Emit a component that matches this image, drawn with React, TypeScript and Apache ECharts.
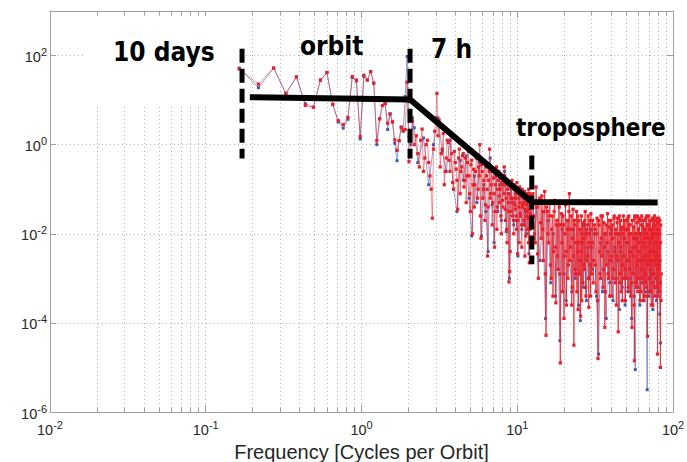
import React, { useEffect, useRef } from "react";
import * as echarts from "echarts";

// ---------- data (frequencies in cycles per orbit; amplitudes stored as log10 exponents) ----------
const freqLow = [0.164, 0.218, 0.273, 0.327, 0.382, 0.436, 0.491, 0.545, 0.6, 0.654, 0.709, 0.763, 0.818, 0.872, 0.927, 0.981, 1.036, 1.09, 1.145, 1.199, 1.254, 1.308, 1.363, 1.417, 1.472, 1.526, 1.581, 1.635, 1.69, 1.744, 1.799, 1.853, 1.908, 1.962, 2.017, 2.071, 2.126, 2.18];
const redLowExp = [1.7, 1.36, 1.72, 1.15, 1.52, 0.88, 0.84, 1.45, 1.62, 0.9, 0.54, 0.45, 0.61, 1.53, 1.45, 0.18, 1.56, 1.45, 1.64, 1.38, 0.09, 0.58, 0.88, 0.92, 0.48, 0.69, 0.51, 0.11, -0.13, 0.09, 0.38, 0.32, 0.34, 1.4, -0.38, 0.08, 0.53, 0.0];
const blueLowExp = [1.72, 1.28, 1.72, 1.15, 1.52, 0.92, 0.84, 1.45, 1.62, 0.9, 0.51, 0.37, 0.57, 1.51, 1.43, 0.13, 1.53, 1.45, 1.64, 1.38, 0.0, 0.58, 0.88, 0.92, 0.34, 0.69, 0.51, 0.03, -0.36, 0.09, 0.4, 0.3, 1.08, 1.98, 0.18, 0.0, 0.6, 0.38];

const freqMid = [2.25, 2.35, 2.45, 2.55, 2.65, 2.75, 2.85, 2.95, 3.05, 3.15, 3.25, 3.35, 3.45, 3.55, 3.65, 3.75, 3.85, 3.95, 4.05, 4.15, 4.25, 4.35, 4.45, 4.55, 4.65, 4.75, 4.85, 4.95, 5.05, 5.15, 5.25, 5.35, 5.45, 5.55, 5.65, 5.75, 5.85, 5.95, 6.05, 6.15, 6.25, 6.35, 6.45, 6.55, 6.65, 6.75, 6.85, 6.95, 7.05, 7.15, 7.25, 7.35, 7.45, 7.55, 7.65, 7.75, 7.85, 7.95, 8.05, 8.15, 8.25, 8.35, 8.45, 8.55, 8.65, 8.75, 8.85, 8.95, 9.05, 9.15, 9.25, 9.35, 9.45, 9.55, 9.65, 9.75, 9.85, 9.95, 10.05, 10.15, 10.25, 10.35, 10.45, 10.55, 10.65, 10.75, 10.85, 10.95, 11.05, 11.15, 11.25, 11.35, 11.45, 11.55, 11.65, 11.75, 11.85, 11.95, 12.05, 12.15, 12.25, 12.35, 12.45];
const redMidExp = [
  0.2, -0.5, 0.35, -0.3, 0.1, -0.7, -1.65, 0.3, 1.15, 0.55,
  -0.2, 0.25, -0.6, 0.1, -0.35, 0.2, -0.85, -0.15, -0.55, -1.45,
  -0.1, -0.6, -0.25, -0.95, -0.3, -0.7, -0.15, -1.1, -0.45, -2.0,
  -0.55, -0.9, -0.3, -1.2, -0.5, 0.0, -2.1, -0.6, -1.0, -0.4,
  -1.35, -0.7, -2.5, -0.8, -0.1, -1.1, -0.55, -1.3, -0.75, -2.3,
  -0.9, -0.5, -1.4, -0.8, -1.15, -0.65, -1.6, -0.85, -1.25, -0.75,
  -0.5, -1.45, -0.9, -1.9, -1.0, -1.3, -3.08, -2.85, -0.95, -1.5,
  -0.8, -1.2, -1.7, -0.9, -1.35, -1.05, -1.6, -0.85, -2.45, -1.1,
  -1.4, -0.95, -1.55, -1.15, -1.8, -1.0, -1.35, -1.2, -1.7, -1.05,
  -1.45, -2.05, -1.1, -1.5, -1.25, -1.65, -1.0, -2.65, -1.3, -1.55,
  -1.15, -1.75, -1.2,
];
const freqMidB = [2.3, 2.4, 2.5, 2.6, 2.7, 2.8, 2.9, 3.0, 3.1, 3.2, 3.3, 3.4, 3.5, 3.6, 3.7, 3.8, 3.9, 4.0, 4.1, 4.2, 4.3, 4.4, 4.5, 4.6, 4.7, 4.8, 4.9, 5.0, 5.1, 5.2, 5.3, 5.4, 5.5, 5.6, 5.7, 5.8, 5.9, 6.0, 6.1, 6.2, 6.3, 6.4, 6.5, 6.6, 6.7, 6.8, 6.9, 7.0, 7.1, 7.2, 7.3, 7.4, 7.5, 7.6, 7.7, 7.8, 7.9, 8.0, 8.1, 8.2, 8.3, 8.4, 8.5, 8.6, 8.7, 8.8, 8.9, 9.0, 9.1, 9.2, 9.3, 9.4, 9.5, 9.6, 9.7, 9.8, 9.9, 10.0, 10.1, 10.2, 10.3, 10.4, 10.5, 10.6, 10.7, 10.8, 10.9, 11.0, 11.1, 11.2, 11.3, 11.4, 11.5, 11.6, 11.7, 11.8, 11.9, 12.0, 12.1, 12.2, 12.3, 12.4];
const redMidBExp = [
  -0.2, 0.1, -0.6, 0.0, -0.4, -1.0, -0.1, 0.6, 0.2, -0.5,
  -0.1, -0.9, -0.3, 0.05, -0.6, -0.2, -1.0, -0.4, -0.8, -0.3,
  -1.1, -0.5, -0.2, -0.8, -1.3, -0.4, -0.7, -1.5, -0.35, -0.9,
  -1.4, -0.6, -0.25, -1.0, -0.7, -1.6, -0.45, -1.2, -0.8, -1.7,
  -0.5, -1.0, -1.4, -0.6, -1.2, -0.9, -1.8, -0.6, -1.1, -1.5,
  -0.7, -1.9, -1.0, -0.6, -1.3, -1.0, -2.0, -0.9, -1.4, -1.1,
  -0.7, -1.7, -1.2, -2.2, -0.9, -1.5, -1.1, -2.4, -1.2, -0.9,
  -1.6, -1.3, -2.0, -1.0, -1.45, -1.2, -1.9, -1.1, -1.7, -1.0,
  -2.2, -1.3, -1.6, -1.1, -2.3, -1.4, -1.15, -1.8, -1.3, -2.5,
  -1.2, -1.6, -1.35, -1.9, -1.2, -2.2, -1.45, -1.1, -1.9, -1.3,
  -1.6, -1.4,
];

const freqHigh1 = [12.6, 12.9, 13.2, 13.5, 13.8, 14.1, 14.4, 14.7, 15.0, 15.3, 15.6, 15.9, 16.2, 16.5, 16.8, 17.1, 17.4, 17.7, 18.0, 18.3, 18.6, 18.9, 19.2, 19.5, 19.8, 20.1, 20.4, 20.7, 21.0, 21.3, 21.6, 21.9, 22.2, 22.5, 22.8, 23.1, 23.4, 23.7, 24.0, 24.3, 24.6, 24.9, 25.2, 25.5, 25.8, 26.1, 26.4, 26.7, 27.0, 27.3, 27.6, 27.9, 28.2, 28.5, 28.8, 29.1, 29.4, 29.7];
const redHigh1Exp = [
  -1.1, -2.0, -0.95, -2.45, -1.3, -1.75, -1.15, -2.6, -1.05, -4.28,
  -1.5, -2.2, -1.3, -3.0, -1.6, -2.4, -1.25, -3.55, -1.7, -2.8,
  -1.4, -4.9, -1.55, -3.3, -1.8, -2.5, -1.35, -3.6, -1.9, -2.7,
  -1.1, -2.3, -1.6, -3.2, -1.45, -4.5, -1.8, -2.9, -1.5, -2.4,
  -3.7, -1.7, -2.6, -3.85, -1.6, -2.2, -3.1, -1.75, -2.8, -1.5,
  -3.4, -1.9, -2.5, -1.6, -3.65, -2.0, -2.7, -1.55,
];
const freqHigh1B = [12.75, 13.05, 13.35, 13.65, 13.95, 14.25, 14.55, 14.85, 15.15, 15.45, 15.75, 16.05, 16.35, 16.65, 16.95, 17.25, 17.55, 17.85, 18.15, 18.45, 18.75, 19.05, 19.35, 19.65, 19.95, 20.25, 20.55, 20.85, 21.15, 21.45, 21.75, 22.05, 22.35, 22.65, 22.95, 23.25, 23.55, 23.85, 24.15, 24.45, 24.75, 25.05, 25.35, 25.65, 25.95, 26.25, 26.55, 26.85, 27.15, 27.45, 27.75, 28.05, 28.35, 28.65, 28.95, 29.25, 29.55, 29.85];
const redHigh1BExp = [
  -1.6, -2.2, -1.4, -3.0, -1.2, -2.1, -1.9, -1.5, -2.9, -1.4,
  -2.0, -1.6, -2.7, -1.9, -3.4, -1.5, -2.3, -1.8, -2.5, -1.3,
  -2.9, -1.8, -2.2, -1.6, -3.9, -2.0, -2.4, -1.7, -3.0, -1.5,
  -2.6, -1.9, -3.6, -2.1, -2.5, -1.7, -2.8, -2.2, -3.3, -1.6,
  -2.2, -2.9, -1.9, -2.4, -3.5, -1.8, -2.7, -2.1, -1.7, -3.2,
  -2.0, -2.6, -1.8, -3.0, -2.2, -1.7, -3.4, -2.3,
];

const freqHigh2 = [30, 30.5, 31, 31.5, 32, 32.5, 33, 33.5, 34, 34.5, 35, 35.5, 36, 36.5, 37, 37.5, 38, 38.5, 39, 39.5, 40, 40.5, 41, 41.5, 42, 42.5, 43, 43.5, 44, 44.5, 45, 45.5, 46, 46.5, 47, 47.5, 48, 48.5, 49, 49.5, 50, 50.5, 51, 51.5, 52, 52.5, 53, 53.5, 54, 54.5, 55, 55.5, 56, 56.5, 57, 57.5, 58, 58.5, 59, 59.5, 60, 60.5, 61, 61.5, 62, 62.5, 63, 63.5, 64, 64.5, 65, 65.5, 66, 66.5, 67, 67.5, 68, 68.5, 69, 69.5, 70, 70.5, 71, 71.5, 72, 72.5, 73, 73.5, 74, 74.5, 75, 75.5, 76, 76.5, 77, 77.5, 78, 78.5, 79, 79.5, 80, 80.5, 81, 81.5, 82, 82.5, 83, 83.5, 84];
const redHigh2Exp = [
  -2.9, -1.7, -2.6, -1.9, -3.3, -1.65, -4.8, -1.8, -2.9, -1.6,
  -2.5, -3.2, -1.75, -4.1, -2.0, -2.7, -1.55, -3.0, -1.85, -2.6,
  -1.7, -3.4, -2.1, -2.8, -1.6, -3.1, -1.9, -2.5, -1.65, -4.2,
  -2.0, -2.9, -1.7, -3.3, -1.85, -2.7, -1.6, -3.0, -2.1, -3.5,
  -1.7, -2.6, -1.9, -3.2, -1.6, -2.8, -1.8, -3.4, -2.0, -4.1,
  -1.7, -2.9, -1.85, -4.85, -1.65, -3.1, -2.0, -2.7, -1.6, -3.3,
  -1.9, -2.6, -1.7, -3.5, -2.0, -2.8, -1.6, -3.0, -1.85, -2.6,
  -1.7, -3.4, -2.1, -2.9, -1.65, -3.2, -2.0, -4.3, -1.8, -2.7,
  -1.6, -3.3, -1.9, -2.8, -1.7, -3.6, -2.0, -2.6, -1.65, -3.1,
  -1.85, -2.9, -1.6, -3.4, -2.0, -2.7, -1.7, -3.2, -1.9, -4.7,
  -1.75, -2.8, -1.65, -3.3, -2.0, -2.6, -5.0, -1.8, -2.9,
];
const freqHigh2B = [30.25, 30.75, 31.25, 31.75, 32.25, 32.75, 33.25, 33.75, 34.25, 34.75, 35.25, 35.75, 36.25, 36.75, 37.25, 37.75, 38.25, 38.75, 39.25, 39.75, 40.25, 40.75, 41.25, 41.75, 42.25, 42.75, 43.25, 43.75, 44.25, 44.75, 45.25, 45.75, 46.25, 46.75, 47.25, 47.75, 48.25, 48.75, 49.25, 49.75, 50.25, 50.75, 51.25, 51.75, 52.25, 52.75, 53.25, 53.75, 54.25, 54.75, 55.25, 55.75, 56.25, 56.75, 57.25, 57.75, 58.25, 58.75, 59.25, 59.75, 60.25, 60.75, 61.25, 61.75, 62.25, 62.75, 63.25, 63.75, 64.25, 64.75, 65.25, 65.75, 66.25, 66.75, 67.25, 67.75, 68.25, 68.75, 69.25, 69.75, 70.25, 70.75, 71.25, 71.75, 72.25, 72.75, 73.25, 73.75, 74.25, 74.75, 75.25, 75.75, 76.25, 76.75, 77.25, 77.75, 78.25, 78.75, 79.25, 79.75, 80.25, 80.75, 81.25, 81.75, 82.25, 82.75, 83.25, 83.75];
const redHigh2BExp = [
  -2.2, -3.1, -1.8, -2.7, -2.0, -3.5, -1.7, -2.4, -3.0, -2.1,
  -1.6, -2.8, -2.3, -3.3, -1.8, -2.2, -2.9, -1.7, -3.4, -2.0,
  -2.5, -1.8, -3.0, -1.65, -2.4, -2.0, -3.6, -1.75, -2.6, -2.2,
  -1.6, -3.1, -2.3, -1.9, -3.5, -2.0, -2.5, -1.7, -2.8, -1.9,
  -3.0, -2.2, -1.65, -2.6, -3.3, -1.8, -2.4, -2.0, -3.1, -1.7,
  -2.5, -2.1, -3.6, -1.6, -2.3, -2.0, -3.2, -1.75, -2.6, -2.2,
  -3.0, -1.65, -2.4, -2.0, -3.3, -1.8, -2.6, -2.2, -3.5, -1.7,
  -2.3, -1.9, -3.1, -2.0, -2.5, -1.6, -3.4, -2.1, -2.6, -1.8,
  -3.0, -2.2, -1.7, -3.3, -2.4, -1.9, -2.9, -2.1, -3.6, -1.7,
  -2.4, -2.0, -3.2, -1.8, -2.6, -2.2, -3.0, -1.65, -2.5, -2.0,
  -3.4, -1.9, -2.3, -2.7, -1.7, -3.1, -2.2, -3.5,
];

const blueMidFreq = [2.3, 2.5, 2.7, 2.9, 3.1, 3.3, 3.5, 3.7, 3.9, 4.1, 4.3, 4.5, 4.7, 4.9, 5.1, 5.3, 5.5, 5.7, 5.9, 6.1, 6.3, 6.5, 6.7, 6.9, 7.1, 7.3, 7.5, 7.7, 7.9, 8.1, 8.3, 8.5, 8.7, 8.9, 9.1, 9.3, 9.5, 9.7, 9.9, 10.1, 10.3, 10.5, 10.7, 10.9, 11.1, 11.3, 11.5, 11.7, 11.9, 12.1, 12.3, 12.5];
const blueMidExp = [
  -0.4, 0.15, -0.9, 0.0, 0.6, -0.15, -0.6, 0.1, -1.0, -1.5,
  -0.35, -0.8, -0.25, -1.2, -2.05, -0.7, -1.3, -0.4, -2.05, -0.9,
  -1.5, -2.4, -0.3, -1.35, -2.2, -0.7, -1.5, -0.9, -1.7, -0.9,
  -0.6, -1.95, -1.1, -3.0, -1.0, -1.3, -1.8, -1.1, -1.7, -2.5,
  -1.2, -1.6, -1.9, -1.1, -1.8, -1.5, -2.0, -1.3, -2.45, -1.4,
  -1.7, -1.25,
];
const blueHigh1Freq = [12.8, 13.4, 14.0, 14.6, 15.2, 15.8, 16.4, 17.0, 17.6, 18.2, 18.8, 19.4, 20.0, 20.6, 21.2, 21.8, 22.4, 23.0, 23.6, 24.2, 24.8, 25.4, 26.0, 26.6, 27.2, 27.8, 28.4, 29.0, 29.6];
const blueHigh1Exp = [-2.1, -1.4, -2.6, -1.5, -3.9, -1.7, -3.1, -2.0, -3.4, -1.8, -4.4, -1.9, -2.9, -3.5, -1.7, -2.6, -3.3, -1.9, -3.0, -2.2, -3.6, -3.95, -2.0, -3.2, -1.8, -3.5, -2.3, -3.0, -1.9];
const blueHigh2Freq = [30.25, 31.25, 32.25, 33.25, 34.25, 35.25, 36.25, 37.25, 38.25, 39.25, 40.25, 41.25, 42.25, 43.25, 44.25, 45.25, 46.25, 47.25, 48.25, 49.25, 50.25, 51.25, 52.25, 53.25, 54.25, 55.25, 56.25, 57.25, 58.25, 59.25, 60.25, 61.25, 62.25, 63.25, 64.25, 65.25, 66.25, 67.25, 68.25, 69.25, 70.25, 71.25, 72.25, 73.25, 74.25, 75.25, 76.25, 77.25, 78.25, 79.25, 80.25, 81.25, 82.25, 83.25];
const blueHigh2Exp = [
  -2.8, -2.0, -3.4, -4.7, -2.2, -3.3, -2.0, -3.9, -2.4, -3.1,
  -1.9, -3.5, -2.3, -3.0, -2.0, -3.7, -2.4, -3.2, -2.1, -3.6,
  -2.2, -3.3, -2.0, -3.0, -3.9, -2.3, -3.4, -5.05, -2.1, -3.2,
  -2.4, -3.6, -2.0, -3.1, -2.5, -3.5, -2.2, -3.3, -5.5, -2.3,
  -3.4, -2.1, -3.0, -2.6, -3.7, -2.2, -3.2, -2.4, -3.5, -2.0,
  -3.3, -2.5, -3.8, -4.45,
];

// piecewise model line
const modelFreq = [0.192, 2.05, 12.4, 79.7];
const modelVal = [11.6, 10.3, 0.0514, 0.0503];

// dashed vertical markers
const dashFreq = [0.171, 2.05, 12.4];
const dashTop = [143, 143, 0.573];
const dashBottom = [0.49, 0.49, 0.00206];

// axes
const xTickValues = [
  0.01, 0.02, 0.03, 0.04, 0.05, 0.06, 0.07, 0.08, 0.09,
  0.1, 0.2, 0.3, 0.4, 0.5, 0.6, 0.7, 0.8, 0.9,
  1, 2, 3, 4, 5, 6, 7, 8, 9,
  10, 20, 30, 40, 50, 60, 70, 80, 90, 100,
];
const xLabelValues = [0.01, 0.1, 1, 10, 100];
const yTickValues = [1e-6, 1e-4, 1e-2, 1, 100];

const xTitle = "Frequency [Cycles per Orbit]";
const annotations = ["10 days", "orbit", "7 h", "troposphere"];

const FONT = '"Liberation Sans", Arial, Helvetica, sans-serif';
const ANN_FONT = '"DejaVu Sans Condensed", "DejaVu Sans", sans-serif';
const AXIS_GRAY = "#a0a0a0";
const TEXT = "#262626";

function toPairs(freqs: number[], exps: number[]) {
  return freqs.map((f, i) => [f, Math.pow(10, exps[i])]);
}

function powLabel(v: number) {
  const e = Math.round(Math.log10(v));
  return `{b|10}{s|${e}}`;
}

const rich = {
  b: { fontSize: 14.5, fontFamily: FONT, color: TEXT, lineHeight: 18, verticalAlign: "bottom" },
  s: { fontSize: 11, fontFamily: FONT, color: TEXT, lineHeight: 11, verticalAlign: "top" },
};

export default function App() {
  const ref = useRef<HTMLDivElement>(null);

  useEffect(() => {
    if (!ref.current) return;
    const chart = echarts.init(ref.current, undefined, { renderer: "svg" });

    const redLowMid = [
      ...toPairs(freqLow, redLowExp),
      ...toPairs(freqMid, redMidExp),
      ...toPairs(freqMidB, redMidBExp),
    ].sort((a, b) => a[0] - b[0]);
    const redHigh = [
      ...toPairs(freqHigh1, redHigh1Exp),
      ...toPairs(freqHigh1B, redHigh1BExp),
      ...toPairs(freqHigh2, redHigh2Exp),
      ...toPairs(freqHigh2B, redHigh2BExp),
    ].sort((a, b) => a[0] - b[0]);
    // the dense part continues from the last low/mid point
    const redHighJoined = [redLowMid[redLowMid.length - 1], ...redHigh];

    const blueData = [
      ...toPairs(freqLow, blueLowExp),
      ...toPairs(blueMidFreq, blueMidExp),
      ...toPairs(blueHigh1Freq, blueHigh1Exp),
      ...toPairs(blueHigh2Freq, blueHigh2Exp),
    ];

    const xBase = { type: "log", logBase: 10, min: 0.01, max: 100, gridIndex: 0 } as any;
    const yBase = { type: "log", logBase: 10, min: 1e-6, max: 1000, gridIndex: 0 } as any;
    const axisLine = { show: true, onZero: false, lineStyle: { color: AXIS_GRAY, width: 1 } };
    const hidden = { show: false };

    const dashSeries = dashFreq.map((f, i) => ({
      type: "line",
      xAxisIndex: 0,
      yAxisIndex: 0,
      data: [
        [f, dashTop[i]],
        [f, dashBottom[i]],
      ],
      symbol: "none",
      lineStyle: { color: "#000", width: 5, type: [14, 6], cap: "butt" },
      z: 6,
      silent: true,
    }));

    const redCommon = {
      type: "line",
      xAxisIndex: 0,
      yAxisIndex: 0,
      symbol: "rect",
      symbolSize: 3.2,
      showSymbol: true,
      showAllSymbol: true,
      itemStyle: { color: "#e8202a" },
      z: 3,
      silent: true,
    };

    const option: any = {
      animation: false,
      grid: { left: 50, right: 14, top: 11, bottom: 50, containLabel: false, outerBoundsMode: "none" },
      xAxis: [
        {
          ...xBase,
          position: "bottom",
          axisLine,
          axisTick: { show: true, inside: true, length: 4, customValues: xTickValues, lineStyle: { color: AXIS_GRAY } },
          axisLabel: { show: true, customValues: xLabelValues, formatter: powLabel, rich, margin: 7 },
          splitLine: { show: true, lineStyle: { color: "#b4b4b4", width: 1, type: [1, 3] } },
          minorTick: hidden,
          minorSplitLine: hidden,
          name: xTitle,
          nameLocation: "middle",
          nameGap: 26,
          nameTextStyle: { fontSize: 20, fontFamily: FONT, color: TEXT },
        },
        {
          ...xBase,
          position: "top",
          axisLine,
          axisTick: { show: true, inside: true, length: 4, customValues: xTickValues, lineStyle: { color: AXIS_GRAY } },
          axisLabel: hidden,
          splitLine: hidden,
        },
        {
          ...xBase,
          position: "bottom",
          axisLine: hidden,
          axisTick: { show: true, inside: true, length: 7, customValues: xLabelValues, lineStyle: { color: AXIS_GRAY } },
          axisLabel: hidden,
          splitLine: hidden,
        },
        {
          ...xBase,
          position: "top",
          axisLine: hidden,
          axisTick: { show: true, inside: true, length: 7, customValues: xLabelValues, lineStyle: { color: AXIS_GRAY } },
          axisLabel: hidden,
          splitLine: hidden,
        },
      ],
      yAxis: [
        {
          ...yBase,
          position: "left",
          axisLine,
          axisTick: { show: true, inside: true, length: 6, customValues: yTickValues, lineStyle: { color: AXIS_GRAY } },
          axisLabel: { show: true, customValues: yTickValues, formatter: powLabel, rich, margin: 3 },
          splitLine: { show: true, lineStyle: { color: "#b4b4b4", width: 1, type: [1, 3] } },
          minorTick: hidden,
          minorSplitLine: hidden,
        },
        {
          ...yBase,
          position: "right",
          axisLine,
          axisTick: { show: true, inside: true, length: 6, customValues: yTickValues, lineStyle: { color: AXIS_GRAY } },
          axisLabel: hidden,
          splitLine: hidden,
        },
      ],
      graphic: [
        {
          type: "rect",
          shape: { x: 85, y: 16, width: 160, height: 91 },
          style: { fill: "#ffffff" },
          z: 1,
          silent: true,
        },
        {
          type: "text",
          x: 113,
          y: 52,
          z: 20,
          style: { text: annotations[0], font: `bold 26px ${ANN_FONT}`, fill: "#000", align: "left", verticalAlign: "middle" },
        },
        {
          type: "text",
          x: 300,
          y: 46,
          z: 20,
          style: { text: annotations[1], font: `bold 26px ${ANN_FONT}`, fill: "#000", align: "left", verticalAlign: "middle" },
        },
        {
          type: "text",
          x: 431,
          y: 49,
          z: 20,
          style: { text: annotations[2], font: `bold 26px ${ANN_FONT}`, fill: "#000", align: "left", verticalAlign: "middle" },
        },
        {
          type: "text",
          x: 516,
          y: 128,
          z: 20,
          style: { text: annotations[3], font: `bold 24px ${ANN_FONT}`, fill: "#000", align: "left", verticalAlign: "middle" },
        },
      ],
      series: [
        {
          type: "line",
          name: "blue",
          xAxisIndex: 0,
          yAxisIndex: 0,
          data: blueData,
          symbol: "rect",
          symbolSize: 3,
          showSymbol: true,
          showAllSymbol: true,
          itemStyle: { color: "#3d5bb0" },
          lineStyle: { color: "#4563b8", width: 1, opacity: 0.6 },
          z: 2,
          silent: true,
        },
        {
          ...redCommon,
          name: "red",
          data: redLowMid,
          lineStyle: { color: "#ee2a32", width: 1, opacity: 0.5 },
        },
        {
          ...redCommon,
          name: "red dense",
          data: redHighJoined,
          lineStyle: { color: "#ea2430", width: 1, opacity: 0.8 },
        },
        {
          type: "line",
          name: "model",
          xAxisIndex: 0,
          yAxisIndex: 0,
          data: modelFreq.map((f, i) => [f, modelVal[i]]),
          symbol: "none",
          lineStyle: { color: "#000", width: 6, join: "miter" },
          z: 5,
          silent: true,
        },
        ...dashSeries,
      ],
    };

    chart.setOption(option);
    return () => chart.dispose();
  }, []);

  return (
    <div
      ref={ref}
      style={{ position: "absolute", left: 0, top: 0, width: 687, height: 462, background: "#fff" }}
    />
  );
}
